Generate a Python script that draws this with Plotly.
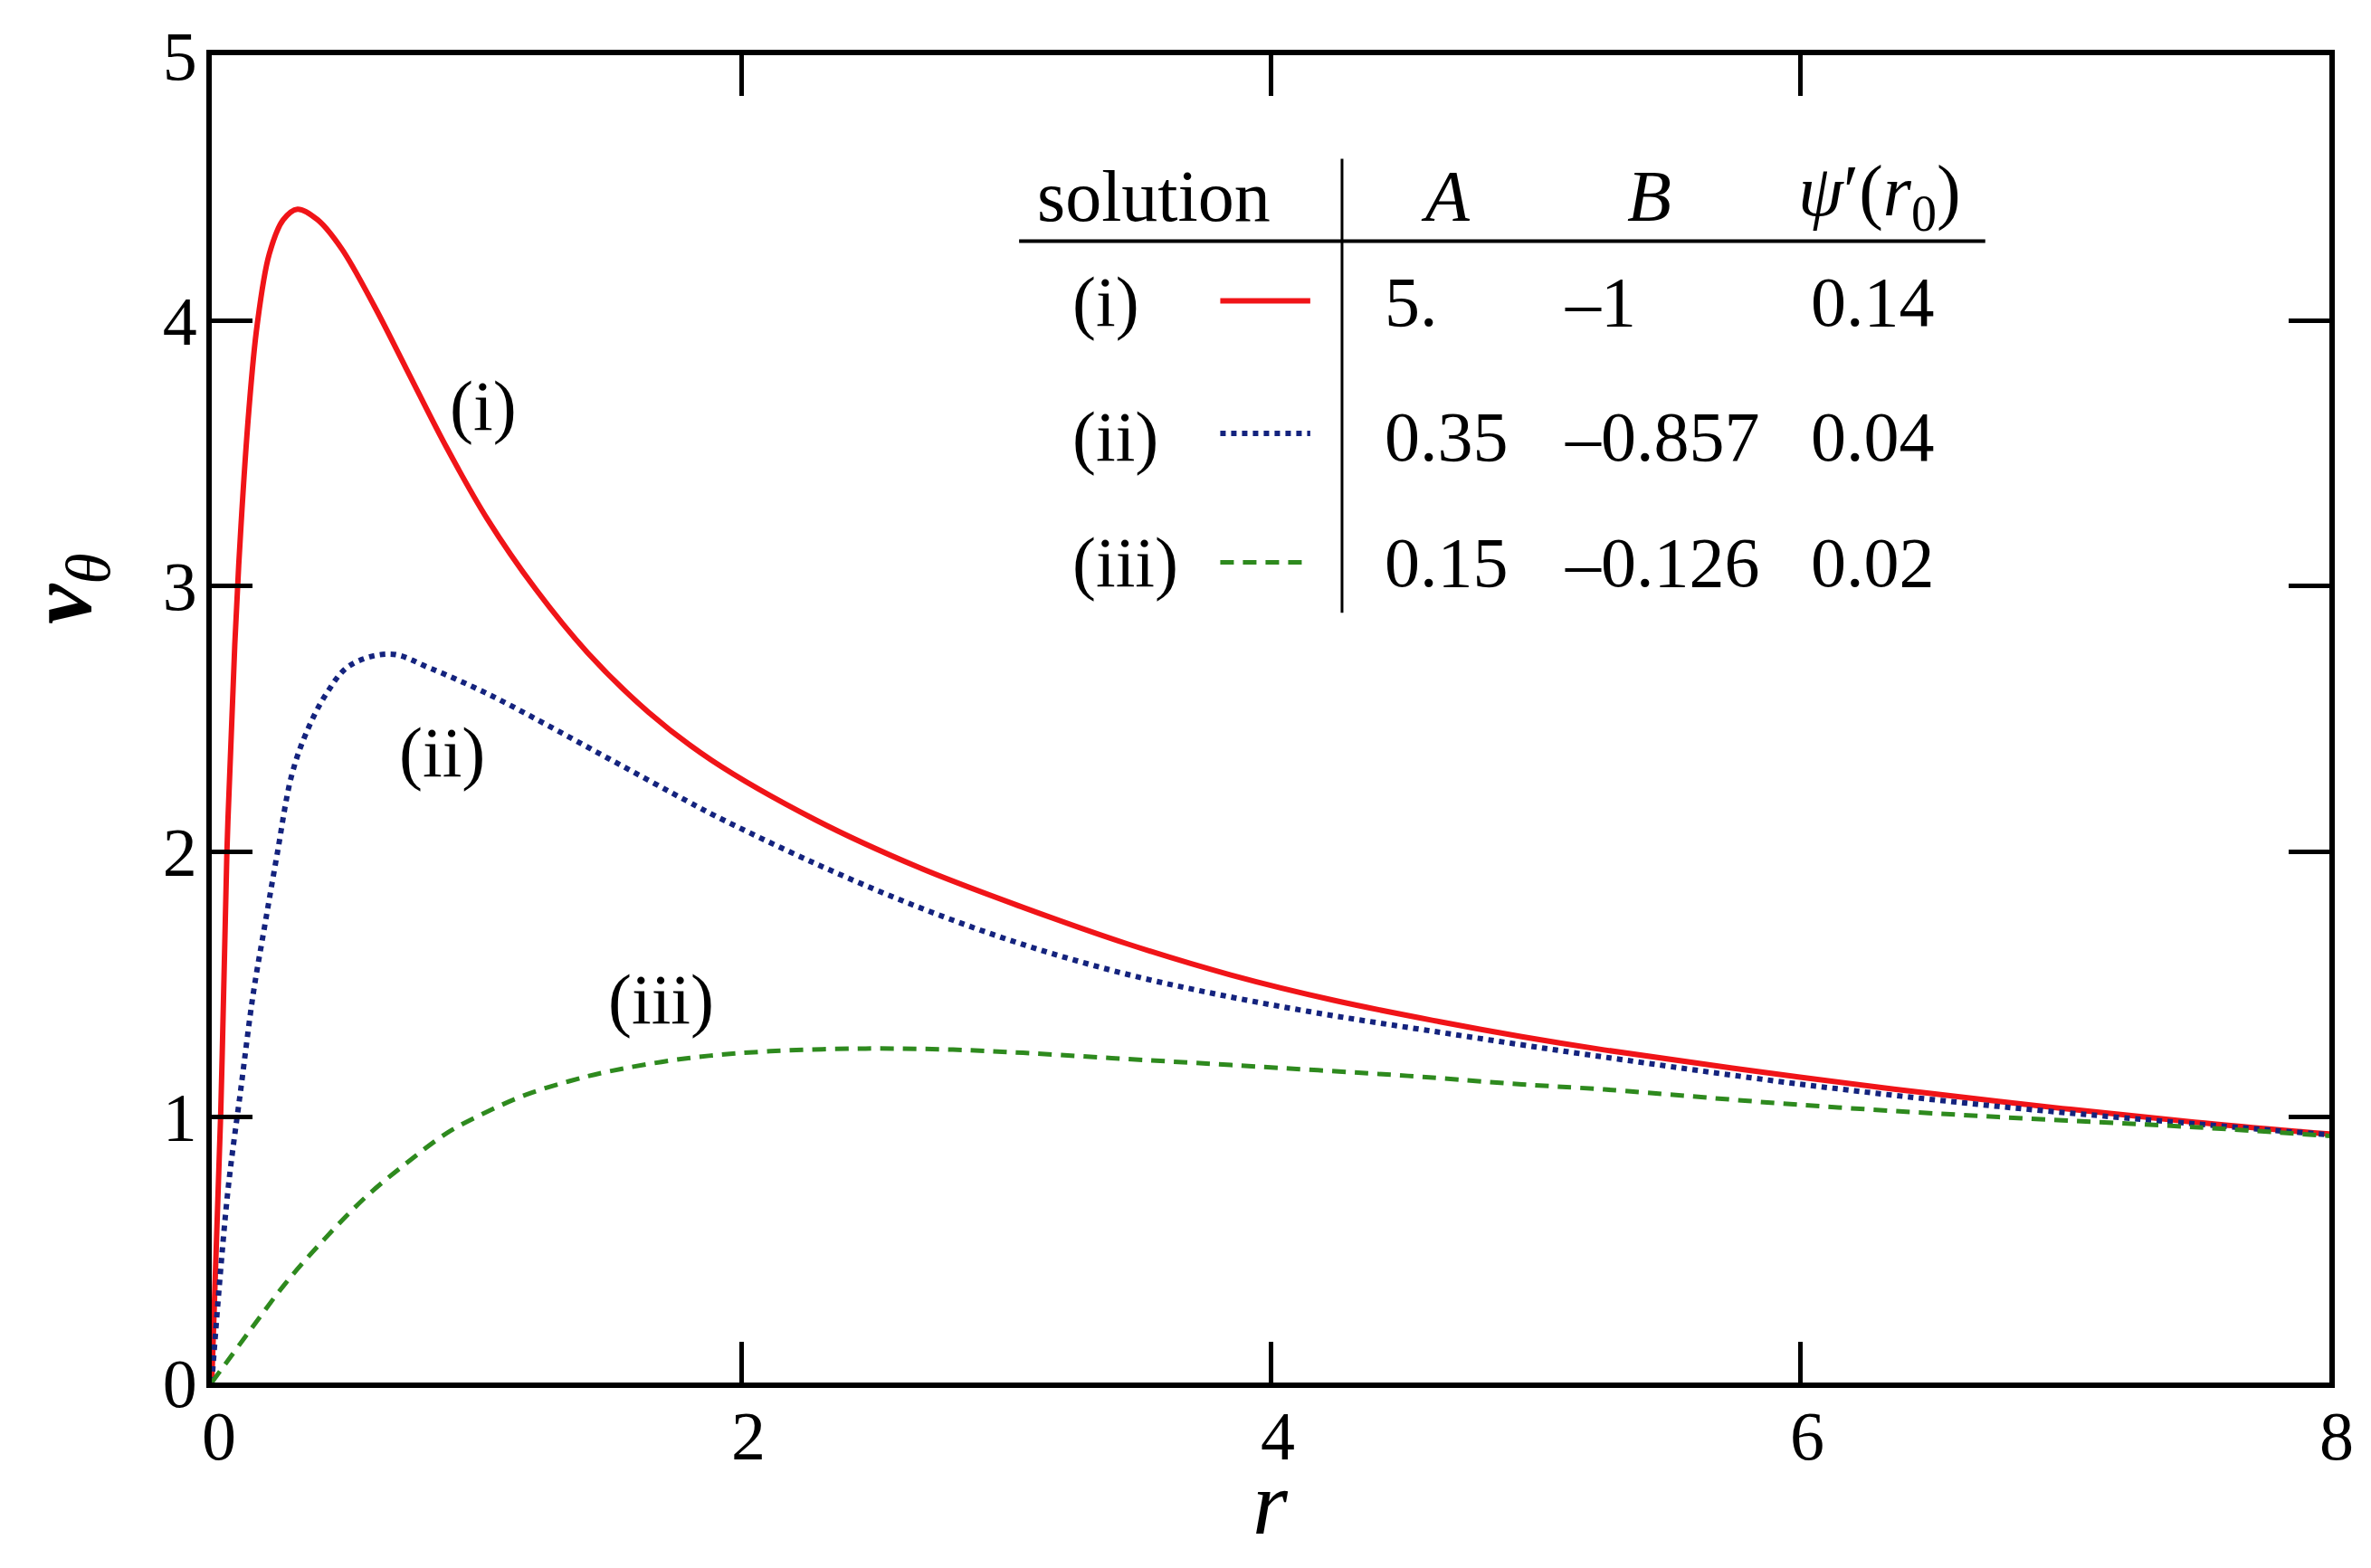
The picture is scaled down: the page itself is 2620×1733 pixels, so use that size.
import plotly.graph_objects as go

# curve (i): A = 5, B = -1
r_i = [0, 0.034, 0.057, 0.087, 0.11, 0.14, 0.171, 0.217, 0.27, 0.324, 0.40, 0.49,
       0.614, 0.735, 0.889, 1.041, 1.224, 1.42, 1.65, 1.887, 2.28, 2.672, 3.065,
       3.457, 3.85, 4.242, 4.635, 4.949, 5.26, 6.0, 6.75, 7.49, 8.0]
v_i = [0, 1.02, 1.99, 2.78, 3.22, 3.66, 3.98, 4.25, 4.38, 4.42, 4.38, 4.272,
       4.055, 3.819, 3.519, 3.253, 2.988, 2.749, 2.525, 2.345, 2.12, 1.94, 1.79,
       1.653, 1.535, 1.439, 1.36, 1.303, 1.253, 1.15, 1.059, 0.981, 0.936]

# curve (ii): A = 0.35, B = -0.857
r_ii = [0, 0.034, 0.064, 0.11, 0.156, 0.20, 0.247, 0.30, 0.354, 0.43, 0.52, 0.675,
        0.827, 1.041, 1.27, 1.50, 1.80, 1.907, 2.28, 2.672, 3.065, 3.457, 3.85,
        4.242, 4.635, 4.949, 5.26, 6.0, 6.75, 7.49, 8.0]
v_ii = [0, 0.43, 0.75, 1.107, 1.46, 1.72, 1.99, 2.28, 2.44, 2.59, 2.70, 2.744,
        2.69, 2.595, 2.475, 2.35, 2.188, 2.132, 1.955, 1.79, 1.65, 1.538, 1.452,
        1.381, 1.32, 1.272, 1.226, 1.124, 1.04, 0.975, 0.933]

# curve (iii): A = 0.15, B = -0.126
r_iii = [0, 0.14, 0.278, 0.43, 0.583, 0.74, 0.889, 1.04, 1.19, 1.35, 1.50, 1.80,
         2.11, 2.47, 2.8, 3.065, 3.4, 3.85, 4.52, 4.949, 5.26, 6.0, 6.75, 7.49, 8.0]
v_iii = [0, 0.19, 0.373, 0.545, 0.70, 0.83, 0.94, 1.02, 1.085, 1.135, 1.172, 1.222,
         1.248, 1.258, 1.254, 1.242, 1.222, 1.196, 1.155, 1.123, 1.104, 1.046, 1.0,
         0.962, 0.929]

x_ticks = [0, 2, 4, 6, 8]
y_ticks = [0, 1, 2, 3, 4, 5]

# table contents
sol_names = ["(i)", "(ii)", "(iii)"]
col_A = ["5.", "0.35", "0.15"]
col_B = ["–1", "–0.857", "–0.126"]
col_psi = ["0.14", "0.04", "0.02"]

FONT = "Liberation Serif"
RED = "#f01418"
BLUE = "#14237e"
GREEN = "#2e8a1e"

fig = go.Figure()
fig.add_trace(go.Scatter(x=r_i, y=v_i, mode="lines",
                         line=dict(color=RED, width=6, shape="spline", smoothing=1.0)))
fig.add_trace(go.Scatter(x=r_ii, y=v_ii, mode="lines",
                         line=dict(color=BLUE, width=6, dash="dot", shape="spline", smoothing=1.0)))
fig.add_trace(go.Scatter(x=r_iii, y=v_iii, mode="lines",
                         line=dict(color=GREEN, width=5, dash="15px,10px", shape="spline", smoothing=1.0)))

# curve labels
curve_labels = [("(i)", 1.026, 3.68), ("(ii)", 0.87, 2.375), ("(iii)", 1.696, 1.445)]
for txt, x, y in curve_labels:
    fig.add_annotation(x=x, y=y, text=txt, showarrow=False,
                       font=dict(family=FONT, size=78, color="black"))

# table header
row_y = [4.07, 3.565, 3.09]
head_y = 4.47
fig.add_annotation(x=3.56, y=head_y, text="solution", showarrow=False,
                   font=dict(family=FONT, size=80, color="black"))
fig.add_annotation(x=4.66, y=head_y, text="<i>A</i>", showarrow=False,
                   font=dict(family=FONT, size=80, color="black"))
fig.add_annotation(x=5.43, y=head_y, text="<i>B</i>", showarrow=False,
                   font=dict(family=FONT, size=80, color="black"))
fig.add_annotation(x=6.30, y=head_y, text="<i>ψ</i>′(<i>r</i><sub>0</sub>)", showarrow=False,
                   font=dict(family=FONT, size=80, color="black"))

for k in range(3):
    fig.add_annotation(x=3.245, y=row_y[k], text=sol_names[k], showarrow=False, xanchor="left",
                       font=dict(family=FONT, size=78, color="black"))
    fig.add_annotation(x=4.425, y=row_y[k], text=col_A[k], showarrow=False, xanchor="left",
                       font=dict(family=FONT, size=78, color="black"))
    fig.add_annotation(x=5.104, y=row_y[k], text=col_B[k], showarrow=False, xanchor="left",
                       font=dict(family=FONT, size=78, color="black"))
    fig.add_annotation(x=6.275, y=row_y[k], text=col_psi[k], showarrow=False,
                       font=dict(family=FONT, size=78, color="black"))

# table rules
fig.add_shape(type="line", x0=4.27, x1=4.27, y0=2.9, y1=4.61,
              line=dict(color="black", width=3))
fig.add_shape(type="line", x0=3.05, x1=6.70, y0=4.30, y1=4.30,
              line=dict(color="black", width=4))

# legend keys in the table
key_styles = [(RED, "solid", 6), (BLUE, "dot", 6), (GREEN, "15px,10px", 5)]
key_y = [4.075, 3.575, 3.09]
for (col, dash, w), y in zip(key_styles, key_y):
    fig.add_shape(type="line", x0=3.81, x1=4.15, y0=y, y1=y,
                  line=dict(color=col, width=w, dash=dash))

# axis titles
fig.add_annotation(xref="paper", yref="paper", x=0.5, y=-0.13, text="<i>r</i>",
                   showarrow=False, font=dict(family=FONT, size=100, color="black"))
fig.add_annotation(xref="paper", yref="y", x=-0.0962, xanchor="left", y=2.99,
                   text="<b><i>v</i></b><sub><i>θ</i></sub>", textangle=-90,
                   showarrow=False, font=dict(family=FONT, size=100, color="black"))

axis_common = dict(showline=True, linecolor="black", linewidth=6, mirror="ticks",
                   ticks="inside", ticklen=45, tickwidth=5, tickcolor="black",
                   showgrid=False, zeroline=False,
                   tickfont=dict(family=FONT, size=76, color="black"))

fig.update_xaxes(range=[0, 8], tickvals=x_ticks, ticktext=[str(t) for t in x_ticks],
                 ticklabelstandoff=-12, ticklabelshift=8, **axis_common)
fig.update_yaxes(range=[0, 5], tickvals=y_ticks, ticktext=[str(t) for t in y_ticks],
                 ticklabelstandoff=-5, **axis_common)

fig.update_layout(
    width=2620, height=1733,
    margin=dict(l=226, r=54, t=42, b=213),
    showlegend=False,
    plot_bgcolor="white", paper_bgcolor="white",
)

fig.write_html("out.html")
